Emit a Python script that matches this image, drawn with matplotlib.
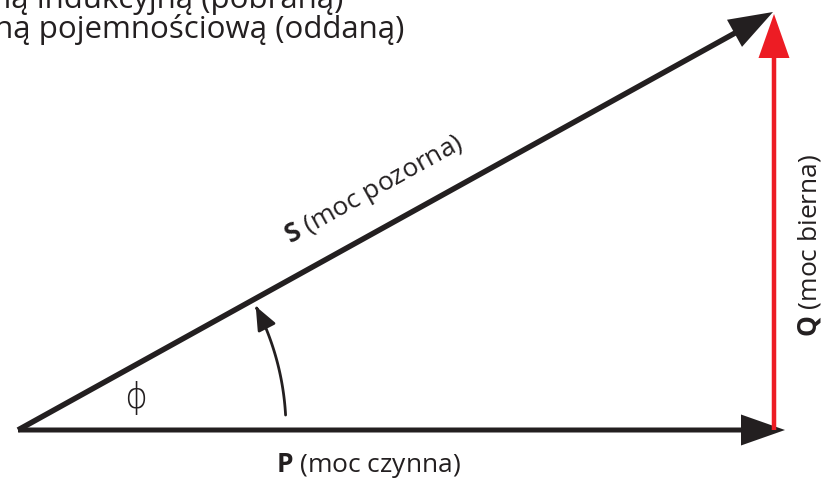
import numpy as np
import matplotlib
matplotlib.use("Agg")
import matplotlib.pyplot as plt
from matplotlib.patches import FancyArrowPatch
from matplotlib.path import Path

plt.rcParams['font.family'] = ['Open Sans', 'DejaVu Sans']
plt.rcParams['mathtext.fontset'] = 'custom'
plt.rcParams['mathtext.rm'] = 'Open Sans'
plt.rcParams['mathtext.bf'] = 'Open Sans:bold'

# --- data (diagram coordinates, pixel-like units) ---
origin = (18, 430)
P_end_x = 785          # active power vector end
Q_x = 774              # reactive power vector x position
Q_top_y = 14           # reactive power vector tip
S_tip = (773, 12)      # apparent power vector tip
phi_arc_angles = (3.2, 27.5)   # degrees
phi_arc_radius = 268

labels = {
    "P": r"$\mathbf{P}$ (moc czynna)",
    "S": r"$\mathbf{S}$ (moc pozorna)",
    "Q": r"$\mathbf{Q}$ (moc bierna)",
    "phi": "ϕ",
}
top_lines = ["moc bierną indukcyjną (pobraną)", "moc bierną pojemnościową (oddaną)"]
top_line_right = [343, 404]
top_line_base = [8, 38]

BLACK = "#231f20"
RED = "#ed1c24"

fig = plt.figure(figsize=(8.22, 4.78), dpi=100)
ax = fig.add_axes([0, 0, 1, 1])
ax.set_xlim(0, 822)
ax.set_ylim(478, 0)
ax.set_aspect('equal')
ax.axis('off')

ox, oy = origin
# P vector
ax.arrow(ox, oy, P_end_x - ox, 0, width=5, head_width=31, head_length=44,
         length_includes_head=True, color=BLACK, lw=0)
# Q vector
ax.arrow(Q_x, oy, 0, Q_top_y - oy, width=4.5, head_width=31, head_length=44,
         length_includes_head=True, color=RED, lw=0, zorder=3)
# S vector
ax.arrow(ox, oy, S_tip[0] - ox, S_tip[1] - oy, width=5.5, head_width=31, head_length=44,
         length_includes_head=True, color=BLACK, lw=0, zorder=4)

# phi arc
th = np.radians(np.linspace(phi_arc_angles[0], phi_arc_angles[1], 60))
pts = np.column_stack([ox + phi_arc_radius * np.cos(th), oy - phi_arc_radius * np.sin(th)])
arc = FancyArrowPatch(path=Path(pts), arrowstyle="-|>,head_length=1.2,head_width=0.5",
                      mutation_scale=12, lw=2.0, color=BLACK)
ax.add_patch(arc)

# labels
ax.text(368, 472, labels["P"], fontsize=19, color=BLACK, ha='center', va='baseline')
ang = np.degrees(np.arctan2(oy - S_tip[1], S_tip[0] - ox))
ax.text(374, 190, labels["S"], fontsize=19, color=BLACK, ha='center', va='center',
        rotation=ang, rotation_mode='anchor')
ax.text(809, 245, labels["Q"], fontsize=19, color=BLACK, ha='center', va='center',
        rotation=90, rotation_mode='anchor')
ax.text(136, 399, labels["phi"], fontsize=25, color=BLACK, ha='center', va='center',
        family=['Open Sans', 'DejaVu Sans'], fontweight='light')

for i, line in enumerate(top_lines):
    ax.text(top_line_right[i], top_line_base[i], line, fontsize=22.5, color=BLACK,
            ha='right', va='baseline', clip_on=False)

fig.savefig("out.png", dpi=100)
